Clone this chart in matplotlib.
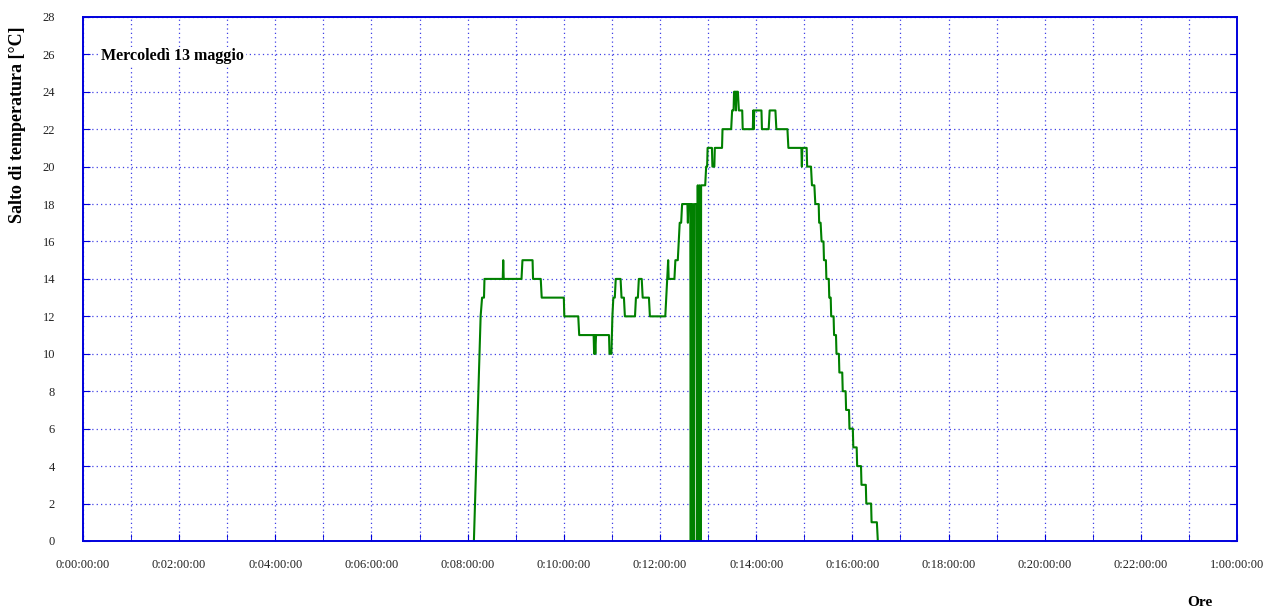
import numpy as np
import matplotlib.pyplot as plt
from matplotlib.ticker import MultipleLocator, FuncFormatter

# Ora del giorno (ore decimali) e salto di temperatura
ore = [8.13, 8.27, 8.30, 8.34, 8.35, 8.73, 8.74, 8.75, 9.12, 9.14, 9.35, 9.36,
       9.52, 9.54, 10.00, 10.01, 10.30, 10.32, 10.62, 10.63, 10.64, 10.655, 10.67,
       10.94, 10.95, 10.99, 11.01, 11.03, 11.06, 11.08, 11.18, 11.20, 11.25, 11.27,
       11.48, 11.50, 11.54, 11.56, 11.62, 11.64, 11.77, 11.79, 12.11, 12.13, 12.15,
       12.17, 12.18, 12.30, 12.32, 12.37, 12.39, 12.41, 12.44, 12.46, 12.57, 12.58,
       12.59, 12.63,
       12.64, 12.65, 12.675, 12.685, 12.71, 12.72, 12.765,
       12.775, 12.785, 12.81, 12.82, 12.845, 12.855,
       12.94, 12.96, 12.98, 12.99, 13.08, 13.09, 13.13, 13.14, 13.29, 13.30, 13.48,
       13.50, 13.53, 13.54, 13.57, 13.58, 13.59, 13.62, 13.64, 13.71, 13.72, 13.93,
       13.94, 13.95, 13.96, 14.11, 14.12, 14.26, 14.28, 14.40, 14.42, 14.65, 14.67,
       14.94, 14.95, 14.96, 15.05, 15.06, 15.14, 15.16, 15.21, 15.23, 15.30, 15.31,
       15.34, 15.36, 15.40, 15.41, 15.45, 15.46, 15.51, 15.52, 15.55, 15.56, 15.61,
       15.62, 15.66, 15.67, 15.72, 15.73, 15.79, 15.80, 15.86, 15.87, 15.93, 15.94,
       16.01, 16.02, 16.09, 16.10, 16.18, 16.19, 16.28, 16.29, 16.39, 16.40, 16.51,
       16.53]
salto = [0, 12, 13, 13, 14, 14, 15, 14, 14, 15, 15, 14,
         14, 13, 13, 12, 12, 11, 11, 10, 11, 10, 11,
         11, 10, 10, 12, 13, 13, 14, 14, 13, 13, 12,
         12, 13, 13, 14, 14, 13, 13, 12, 12, 13, 14,
         15, 14, 14, 15, 15, 16, 17, 17, 18, 18, 17,
         18, 18,
         0, 18, 0, 18, 0, 18, 18,
         0, 19, 0, 19, 0, 19,
         19, 20, 20, 21, 21, 20, 20, 21, 21, 22, 22,
         23, 23, 24, 24, 23, 24, 24, 23, 23, 22, 22,
         23, 22, 23, 23, 22, 22, 23, 23, 22, 22, 21,
         21, 20, 21, 21, 20, 20, 19, 19, 18, 18, 17,
         17, 16, 16, 15, 15, 14, 14, 13, 13, 12,
         12, 11, 11, 10, 10, 9, 9, 8, 8, 7, 7, 6,
         6, 5, 5, 4, 4, 3, 3, 2, 2, 1, 1,
         0]

titolo = 'Mercoledì 13 maggio'
blu = '#0000dd'

plt.rcParams['font.family'] = ['Liberation Serif', 'DejaVu Serif']

fig = plt.figure(figsize=(12.74, 6.13), dpi=100)
ax = fig.add_axes([0.0651, 0.1175, 0.9059, 0.855])

ax.plot(ore, salto, color='#008000', lw=1.5)

ax.set_xlim(0, 24)
ax.set_ylim(0, 28)
ax.xaxis.set_major_locator(MultipleLocator(2))
ax.xaxis.set_minor_locator(MultipleLocator(1))
ax.yaxis.set_major_locator(MultipleLocator(2))


def fmt_ore(h, pos):
    h = int(round(h))
    return f'{h // 24}:{h % 24:02d}:00:00'


ax.xaxis.set_major_formatter(FuncFormatter(fmt_ore))
ax.grid(True, which='both', color=blu, ls=(0, (1, 2.5)), lw=0.9, alpha=0.75)
for s in ax.spines.values():
    s.set_color(blu)
    s.set_linewidth(1.4)
ax.tick_params(which='both', direction='in', color=blu, top=False, right=True,
               labelsize=9, labelcolor='#222222')
ax.tick_params(axis='x', which='major', length=5, pad=13)
ax.tick_params(axis='x', which='minor', length=5)
ax.tick_params(axis='y', length=5, pad=20)
ax.set_axisbelow(True)

ax.text(0.016, 0.925, titolo, transform=ax.transAxes, fontsize=11.5,
        fontweight='bold', va='center', ha='left',
        bbox=dict(facecolor='white', edgecolor='none', pad=1))
fig.text(18 / 1274, 1 - 125 / 613, 'Salto di temperatura [°C]', rotation=90,
         fontsize=13, fontweight='bold', ha='center', va='center')
fig.text(1200 / 1274, 1 - 603 / 613, 'Ore', fontsize=11, fontweight='bold',
         ha='center', va='center')

fig.savefig('out.png', dpi=100)
